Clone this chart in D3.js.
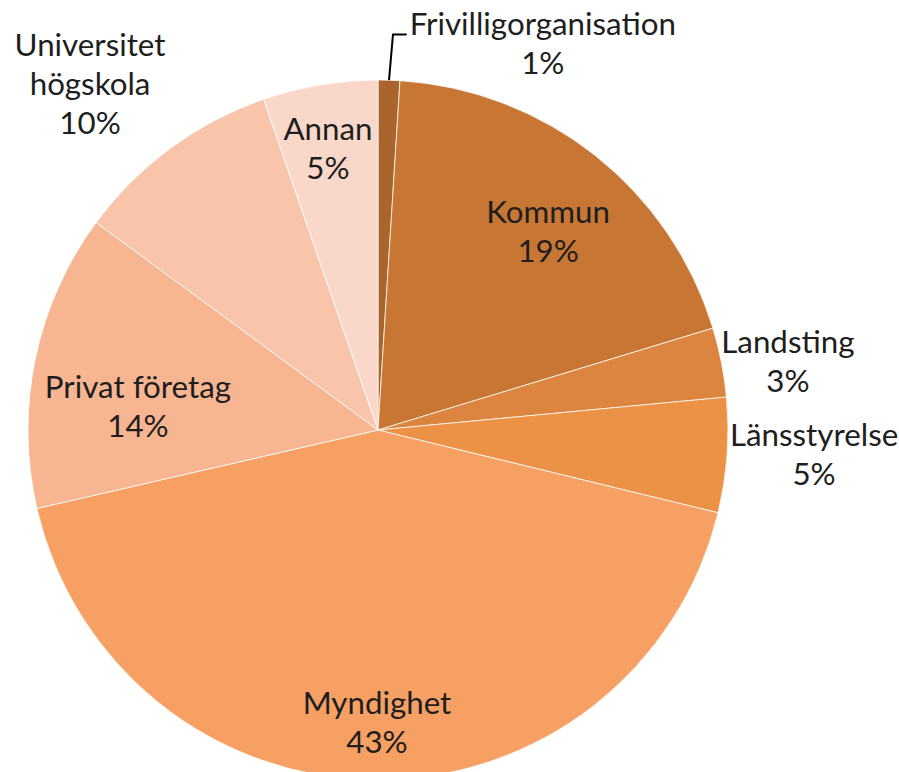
<!DOCTYPE html>
<html>
<head>
<meta charset="utf-8">
<script src="https://cdn.jsdelivr.net/npm/d3@7"></script>
<style>
  html, body { margin: 0; padding: 0; background: #fff; }
  svg { display: block; }
</style>
</head>
<body>
<svg id="chart" width="899" height="772"></svg>
<script>
// ---- data ----
const categories = ["Frivilligorganisation", "Kommun", "Landsting", "Länsstyrelse", "Myndighet", "Privat företag", "Universitet högskola", "Annan"];
const values = [1.0, 19.3, 3.2, 5.3, 42.6, 13.7, 9.6, 5.3];
const labelLines = [["Frivilligorganisation"], ["Kommun"], ["Landsting"], ["Länsstyrelse"], ["Myndighet"], ["Privat företag"], ["Universitet", "högskola"], ["Annan"]];
const colors = ["#A9652B", "#C87634", "#DB8540", "#EC9246", "#F6A064", "#F7B591", "#F8C5AB", "#FAD8C9"];

// ---- layout (label placement: angle in degrees clockwise from top, radius factor) ----
const labelPlacement = [[23.1, 1.2], [40.65, 0.746], [80.6, 1.187], [93.3, 1.248], [180.2, 0.837], [275.5, 0.689], [320.15, 1.284], [349.9, 0.815]];

const width = 899, height = 772;
const cx = 378, cy = 430, R = 350;
const lineH = 39;
const fontFamily = "Lato, 'Open Sans', sans-serif";

const svg = d3.select("#chart");
const g = svg.append("g").attr("transform", `translate(${cx},${cy})`);

const total = d3.sum(values);
const data = categories.map((c, i) => ({ name: c, value: values[i], i }));

const pie = d3.pie().sort(null).value(d => d.value).startAngle(0).endAngle(2 * Math.PI);
const arcs = pie(data);
const arc = d3.arc().innerRadius(0).outerRadius(R);

g.selectAll("path.slice")
  .data(arcs)
  .join("path")
  .attr("class", "slice")
  .attr("d", arc)
  .attr("fill", d => colors[d.data.i])
  .attr("stroke", "#ffffff")
  .attr("stroke-opacity", 0.75)
  .attr("stroke-width", 1);

// auto-fit font size so that the longest label matches reference width (~266px)
const probe = svg.append("text").attr("font-family", fontFamily).attr("font-size", 100).text("Frivilligorganisation");
const w100 = probe.node().getComputedTextLength();
probe.remove();
const fontSize = Math.round(100 * 266 / w100 * 10) / 10;
const capH = fontSize * 0.66;

const toXY = (deg, rf) => {
  const a = deg * Math.PI / 180;
  return [Math.sin(a) * R * rf, -Math.cos(a) * R * rf];
};

const labels = g.selectAll("g.label")
  .data(arcs)
  .join("g")
  .attr("class", "label");

labels.each(function (d) {
  const i = d.data.i;
  const lines = labelLines[i].concat([Math.round(d.data.value / total * 100) + "%"]);
  const [x, y] = toXY(labelPlacement[i][0], labelPlacement[i][1]);
  const n = lines.length;
  const firstBase = y - (n - 1) * lineH / 2 + capH / 2;
  const t = d3.select(this).append("text")
    .attr("text-anchor", "middle")
    .attr("font-family", fontFamily)
    .attr("font-size", fontSize)
    .attr("fill", "#1e1e1e");
  lines.forEach((ln, k) => {
    t.append("tspan").attr("x", x).attr("y", firstBase + k * lineH).text(ln);
  });
  d.labelBox = { x, y, firstBase, node: t.node() };
});

// leader line for the small outside slice (Frivilligorganisation)
const small = arcs[0];
const mid = (small.startAngle + small.endAngle) / 2;
const p0 = [Math.sin(mid) * R, -Math.cos(mid) * R];
const bb = small.labelBox.node.getBBox();
const elbowY = small.labelBox.firstBase - capH * 0.0;
const elbow = [p0[0] + 4, elbowY];
const endPt = [bb.x - 3, elbowY];
g.append("path")
  .attr("d", d3.line()([p0, elbow, endPt]))
  .attr("fill", "none")
  .attr("stroke", "#000")
  .attr("stroke-width", 2);
</script>
</body>
</html>
